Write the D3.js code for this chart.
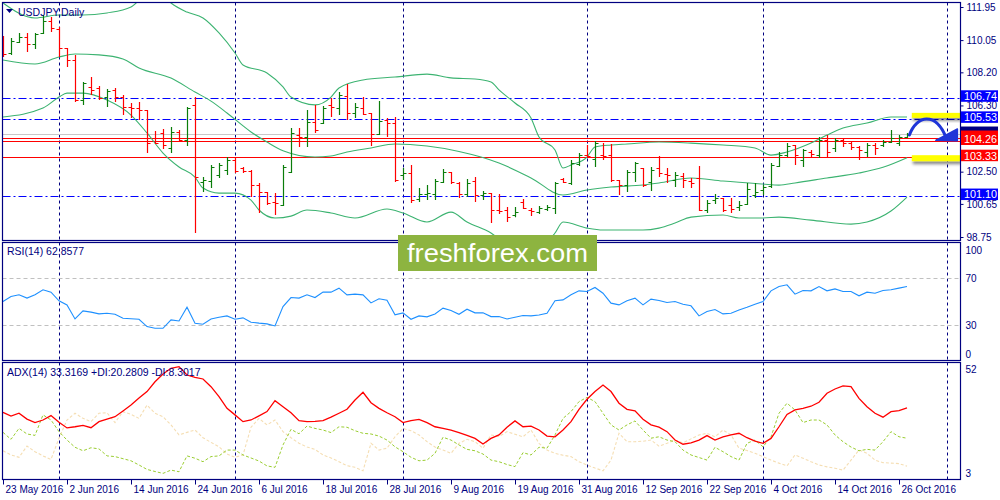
<!DOCTYPE html>
<html>
<head>
<meta charset="utf-8">
<script src="https://cdn.jsdelivr.net/npm/d3@7"></script>
<style>
body { margin: 0; background: #fff; }
text { font-family: "Liberation Sans", Arial, sans-serif; }
</style>
</head>
<body>
<script>
// Data //////////////////////////////////////////////

var dates = ["23 May 2016", "2 Jun 2016", "14 Jun 2016", "24 Jun 2016", "6 Jul 2016", "18 Jul 2016", "28 Jul 2016",
             "9 Aug 2016", "19 Aug 2016", "31 Aug 2016", "12 Sep 2016", "22 Sep 2016", "4 Oct 2016", "14 Oct 2016", "26 Oct 2016"];
var dateBars = [0, 8, 16, 24, 32, 40, 48, 56, 64, 72, 80, 88, 96, 104, 112];
var gridBars = [7, 29, 50, 73, 95, 118];

var opens = [
110.06,109.31,109.94,110.23,109.83,110.46,111.15,110.69,109.60,108.91,
106.61,107.36,107.30,106.79,107.19,106.79,106.21,106.15,106.04,104.43,
104.72,103.86,104.78,104.32,106.33,101.91,101.96,102.31,102.59,103.17,
102.71,102.54,101.73,101.33,100.76,100.58,102.48,104.60,104.49,105.35,
105.29,106.33,106.15,106.84,105.87,106.15,105.87,104.66,105.46,105.29,
102.31,102.42,100.93,101.22,101.22,101.91,102.48,101.85,101.22,101.96,
101.16,101.27,100.30,100.30,100.01,100.76,100.30,100.18,100.36,100.41,
102.08,101.85,102.94,103.45,103.23,103.45,103.45,102.02,101.73,102.48,
102.71,101.91,102.71,102.37,102.02,102.25,101.96,102.14,100.30,100.87,
100.99,100.58,100.47,100.64,101.16,101.45,101.68,102.82,103.45,104.03,
103.17,103.63,103.45,104.32,103.86,104.32,104.14,103.91,103.63,104.03,
104.03,104.20,104.14,104.49];
var highs = [
110.29,110.17,110.46,110.46,110.46,111.49,111.38,110.80,109.60,109.20,
107.64,107.93,107.42,107.24,107.30,106.90,106.44,106.50,106.04,104.83,
104.95,105.06,104.89,106.21,106.79,102.19,102.88,103.00,103.34,103.34,
102.77,102.59,101.85,101.33,101.27,102.88,105.00,105.00,106.04,106.33,
106.27,106.73,107.07,107.53,106.44,106.79,105.87,106.55,105.58,105.64,
102.71,102.88,101.56,101.73,102.08,102.65,102.48,101.91,102.08,102.19,
101.39,101.27,101.22,100.47,100.47,100.93,100.41,100.53,100.58,101.91,
102.14,103.17,103.57,104.03,104.26,104.14,104.09,102.02,102.59,103.05,
102.71,102.77,103.40,102.71,102.48,102.42,102.14,102.82,100.87,101.22,
100.99,100.99,100.82,101.85,101.85,101.73,103.00,103.63,104.14,104.03,
103.80,103.74,104.49,104.60,104.43,104.43,104.20,103.97,104.14,104.14,
104.32,104.89,104.60,104.72];
var lows = [
109.08,109.20,109.88,109.37,109.54,110.40,110.52,109.08,108.51,106.50,
106.33,106.90,106.61,106.21,106.50,105.75,105.58,105.46,103.57,104.09,
103.80,103.57,104.20,103.97,98.98,101.33,101.56,102.14,102.31,102.42,
102.42,101.04,100.13,100.58,100.01,100.53,102.42,103.91,103.91,104.72,
105.23,105.64,105.75,105.46,105.58,105.75,103.97,104.60,104.49,101.91,
102.02,100.70,100.76,100.87,100.87,101.85,101.79,100.99,101.04,100.76,
100.87,99.55,100.07,99.61,99.89,100.36,99.95,100.07,100.24,100.07,
101.85,101.73,102.82,103.28,102.77,103.17,101.91,101.16,101.33,101.91,
101.62,101.39,102.19,101.85,101.62,101.56,101.56,100.24,100.13,100.64,
100.18,100.13,100.24,100.58,100.99,101.16,101.56,102.77,103.34,102.88,
102.77,103.34,103.28,103.34,103.63,103.91,103.74,103.17,103.34,103.45,
103.91,104.14,103.97,104.43];
var closes = [
109.25,110.00,110.23,109.83,110.40,111.15,110.74,109.60,108.91,106.61,
107.59,107.19,106.73,107.13,106.79,106.21,106.15,106.04,104.14,104.14,
104.03,104.78,104.32,106.15,102.19,102.02,102.77,102.88,103.17,102.54,
102.54,101.73,101.33,100.70,100.70,102.77,104.72,104.49,105.35,104.89,
106.15,106.21,106.90,105.87,106.21,105.81,104.66,105.41,105.29,102.02,
102.42,100.87,101.22,101.28,101.96,102.48,101.91,101.22,101.85,101.16,
101.27,100.30,100.24,99.89,100.18,100.41,100.24,100.41,100.47,101.85,
101.91,103.00,103.45,103.40,104.14,103.40,102.02,101.73,102.48,103.00,
101.73,102.59,102.42,102.31,102.31,102.02,101.85,100.30,100.70,100.99,
100.30,100.36,100.58,101.50,101.33,101.62,102.88,103.45,103.97,103.45,
103.74,103.51,104.32,103.63,104.32,104.14,103.91,103.74,104.03,103.86,
104.20,104.43,104.49,104.66];

// Bollinger bands, read at the bars where the curves bend
var bbUpperIdx = [0,4,7,10,13,16,18,20,21,23,25,27,29,30,33,35,36,39,41,42,45,49,53,56,59,61,62,64,66,67,69,70,71,73,74,76,78,82,86,90,94,96,98,101,103,105,108,111,113];
var bbUpper = [112.18,111.32,111.49,111.49,111.61,111.95,112.6,112.6,112.18,111.66,111.32,110.46,109.31,108.62,108.16,107.36,106.78,106.33,106.78,107.30,
               107.76,107.93,108.10,107.88,107.82,107.65,107.19,106.44,105.58,104.49,103.74,102.71,102.88,103.34,103.91,104.03,104.09,104.20,104.14,104.03,
               103.86,103.45,103.63,104.14,104.60,105.00,105.29,105.64,105.64];
var bbMidIdx = [0,4,7,9,12,15,17,21,24,26,28,31,33,35,39,41,43,46,49,53,57,62,66,70,73,76,80,82,86,90,95,97,99,103,107,110,113];
var bbMid = [108.91,108.68,109.08,109.25,109.20,108.97,108.45,107.87,107.07,106.55,105.87,104.78,104.20,103.70,103.34,103.40,103.63,103.86,104.09,103.97,
             103.66,103.00,102.14,101.16,101.45,101.62,101.73,101.85,102.14,101.96,101.79,101.73,101.85,102.14,102.42,102.75,103.30];
var bbLowerIdx = [0,5,7,8,10,13,16,18,20,22,24,25,27,29,31,32,34,36,38,41,44,48,50,53,56,58,61,63,65,67,68,69,70,73,75,80,82,84,86,90,92,95,97,101,106,108,111,113];
var bbLower = [105.64,106.15,106.78,107.01,107.01,106.61,105.75,104.72,103.57,102.77,102.19,101.56,101.27,101.27,100.87,100.30,99.84,99.95,100.30,100.13,
               99.84,100.36,100.13,99.61,100.18,99.61,98.98,98.29,98.0,98.0,98.4,98.98,99.61,99.26,99.15,99.15,99.26,99.55,99.89,100.01,
               99.84,99.84,99.89,99.72,99.49,99.61,100.24,101.04];

var rsi = [
50.0,54.3,55.7,52.9,55.7,60.0,58.0,50.6,47.1,35.1,
42.0,40.9,39.4,40.0,39.1,35.7,35.3,34.8,28.6,27.1,
27.1,34.3,33.4,45.1,31.4,30.6,35.1,36.5,37.7,34.8,
36.0,32.3,31.5,30.9,29.1,45.7,53.4,52.9,55.7,53.4,
58.0,58.0,61.4,55.7,56.3,55.7,48.8,52.3,51.1,38.6,
40.3,34.8,37.7,36.9,39.4,44.3,42.3,39.1,43.4,40.3,
40.3,37.1,37.1,35.1,36.5,38.0,37.7,38.5,40.0,50.6,
51.4,55.7,59.1,58.6,62.0,57.1,48.6,47.1,50.6,52.9,
47.1,52.0,50.8,49.1,50.0,47.7,46.3,37.7,41.4,43.1,
39.4,40.0,42.8,45.1,47.7,50.0,59.1,62.8,64.3,56.3,
59.4,59.1,62.8,59.1,60.8,58.6,58.6,54.9,58.0,57.1,
59.4,60.0,61.4,62.86];

var adx = [
31.4,29.8,31.0,28.5,27.0,28.1,30.0,27.1,24.7,25.2,
25.8,24.8,27.4,28.5,29.5,32.0,34.5,37.5,40.3,44.5,
47.8,50.3,51.0,47.4,46.4,45.7,42.4,38.1,33.1,30.3,
27.4,28.1,29.9,31.7,36.4,33.8,31.2,27.8,27.4,27.5,
27.8,29.3,31.0,32.7,36.7,40.0,35.5,33.1,31.2,29.5,
27.0,27.8,28.4,27.0,25.2,24.5,23.8,22.7,21.5,20.2,
17.8,20.2,21.7,25.0,27.7,25.2,25.5,23.8,21.2,20.9,
23.8,27.4,32.7,37.0,40.3,43.1,40.3,35.3,32.7,32.0,
28.4,26.0,25.0,23.1,19.5,17.7,18.3,19.5,21.4,19.5,
20.9,21.7,22.4,20.5,19.0,18.1,20.2,25.2,30.5,32.4,
33.1,34.0,35.7,39.6,41.4,42.7,42.4,37.4,33.8,31.0,
29.3,31.7,32.1,33.32];
var plusDI = [
22.8,19.8,24.5,22.1,21.5,30.3,28.1,23.1,19.5,16.4,
14.9,16.2,15.7,12.7,12.4,11.5,10.6,8.8,6.9,6.0,
5.2,6.6,5.9,12.7,11.7,10.2,12.4,12.7,15.2,15.2,
13.1,11.8,10.5,8.4,7.8,17.4,24.1,22.2,25.5,24.5,
23.8,22.7,25.2,25.0,23.5,22.4,22.1,21.2,19.5,16.6,
14.5,12.1,10.6,10.9,13.8,20.7,19.5,17.4,15.5,14.9,
13.5,10.9,10.2,9.0,8.1,14.1,13.1,16.4,16.0,21.7,
28.8,31.7,36.0,37.8,36.0,31.0,26.0,23.8,26.0,27.7,
23.8,20.3,20.9,19.5,18.8,15.2,13.1,12.0,10.9,16.4,
14.5,12.4,10.9,18.1,19.5,16.6,20.9,31.0,35.3,32.4,
27.0,28.1,28.1,26.0,21.7,18.8,16.5,14.9,15.5,15.2,
18.8,23.1,20.9,20.28];
var minusDI = [
14.9,13.1,12.1,16.9,14.5,12.7,11.2,20.3,28.1,31.0,
28.8,27.4,31.0,31.2,27.0,31.7,30.5,28.8,34.5,31.0,
29.5,26.0,21.7,22.8,23.8,20.5,18.5,16.6,13.5,12.1,
13.1,25.0,28.8,26.0,28.1,23.1,20.5,18.1,16.5,15.5,
13.1,11.8,10.2,8.5,7.8,6.3,18.1,15.2,16.0,20.9,
24.5,23.5,21.7,18.8,16.5,15.2,13.8,18.1,19.8,18.8,
16.0,21.7,21.0,23.1,22.0,20.9,23.8,18.1,15.2,13.8,
13.0,12.4,10.2,8.8,7.5,6.3,10.9,22.4,18.8,18.8,
19.0,19.5,16.9,18.1,19.5,18.3,20.0,21.7,22.4,20.9,
23.8,21.7,16.0,15.0,13.8,12.4,10.9,9.6,8.4,13.1,
11.7,10.2,8.8,8.0,7.4,6.6,10.9,15.2,13.8,10.9,
9.8,9.6,9.4,8.30];

// 104.40 is covered by the level tags in the reference, so it is left out
var priceTicks = [111.95, 110.05, 108.20, 106.30, 102.50, 100.65, 98.75];
var blueLevels = [106.74, 105.53, 101.10];
var redLevels = [104.43, 104.26, 103.33];
var bidPrice = 104.66;
var rsiTicks = [100, 70, 30, 0];
var rsiLevels = [70, 30];
var adxTicks = [52, 3];

// Setup //////////////////////////////////////////////

var navy = "#000080";
var svg = d3.select("body").append("svg")
    .attr("width", 1000)
    .attr("height", 500);

var xLeft = 2.5, xRight = 960.5;
var panels = [
    {name: "price", top: 2.5, bottom: 240.5},
    {name: "rsi", top: 242.5, bottom: 360.5},
    {name: "adx", top: 362.5, bottom: 479.5}
];

var xScale = d3.scaleLinear().domain([0, 119.5]).range([3, 959]);
var yPrice = d3.scaleLinear().domain([98.75, 111.95]).range([237, 7]);
var yRsi = d3.scaleLinear().domain([0, 100]).range([360, 243]);
var yAdx = d3.scaleLinear().domain([3, 52]).range([478.5, 364.3]);

function px(i) { return Math.round(xScale(i)) + 0.5; }

var defs = svg.append("defs");
panels.forEach(function(p) {
    defs.append("clipPath").attr("id", "clip-" + p.name)
        .append("rect")
        .attr("x", xLeft).attr("y", p.top)
        .attr("width", xRight - xLeft).attr("height", p.bottom - p.top);
});
var shadow = defs.append("filter").attr("id", "shadow")
    .attr("x", "-20%").attr("y", "-50%").attr("width", "140%").attr("height", "250%");
shadow.append("feDropShadow")
    .attr("dx", 1).attr("dy", 3).attr("stdDeviation", 1.5)
    .attr("flood-color", "#000").attr("flood-opacity", 0.45);

var layers = {};
panels.forEach(function(p) {
    layers[p.name] = svg.append("g").attr("clip-path", "url(#clip-" + p.name + ")");
    // vertical dashed grid
    layers[p.name].selectAll(".grid")
        .data(gridBars)
        .enter().append("line")
            .attr("x1", function(d) { return px(d); })
            .attr("x2", function(d) { return px(d); })
            .attr("y1", p.top).attr("y2", p.bottom)
            .attr("stroke", navy).attr("stroke-width", 1)
            .attr("stroke-dasharray", "3,3");
});

// PRICE PANEL ////////////////////////////////////////
var gp = layers.price;

gp.append("line")
    .attr("x1", xLeft).attr("x2", xRight)
    .attr("y1", Math.round(yPrice(bidPrice)) + 0.5).attr("y2", Math.round(yPrice(bidPrice)) + 0.5)
    .attr("stroke", "#c8c8c8");

gp.selectAll(".blue-level")
    .data(blueLevels)
    .enter().append("line")
        .attr("x1", xLeft).attr("x2", xRight)
        .attr("y1", function(d) { return Math.round(yPrice(d)) + 0.5; })
        .attr("y2", function(d) { return Math.round(yPrice(d)) + 0.5; })
        .attr("stroke", "#0000ff").attr("stroke-width", 1.2)
        .attr("stroke-dasharray", "8,3,2,3");

gp.selectAll(".red-level")
    .data(redLevels)
    .enter().append("line")
        .attr("x1", xLeft).attr("x2", xRight)
        .attr("y1", function(d) { return Math.round(yPrice(d)) + 0.5; })
        .attr("y2", function(d) { return Math.round(yPrice(d)) + 0.5; })
        .attr("stroke", "#ff0000").attr("stroke-width", 1.2);

function bandLine(idx, vals, yS) {
    var pts = idx.map(function(d, i) { return [xScale(d), yS(vals[i])]; });
    return d3.line().curve(d3.curveMonotoneX)(pts);
}
[[bbUpperIdx, bbUpper], [bbMidIdx, bbMid], [bbLowerIdx, bbLower]].forEach(function(b) {
    gp.append("path")
        .attr("d", bandLine(b[0], b[1], yPrice))
        .attr("fill", "none")
        .attr("stroke", "#3cb371")
        .attr("stroke-width", 1.1);
});

// OHLC bars
var bars = gp.selectAll(".bar")
    .data(d3.range(opens.length))
    .enter().append("g")
        .attr("stroke", function(i) { return closes[i] > opens[i] ? "#0a7d0a" : "#ff0000"; })
        .attr("stroke-width", 1.2);
bars.append("line")
    .attr("x1", function(i) { return px(i); }).attr("x2", function(i) { return px(i); })
    .attr("y1", function(i) { return yPrice(highs[i]); })
    .attr("y2", function(i) { return yPrice(lows[i]); });
bars.append("line")
    .attr("x1", function(i) { return px(i) - 3; }).attr("x2", function(i) { return px(i); })
    .attr("y1", function(i) { return Math.round(yPrice(opens[i])) + 0.5; })
    .attr("y2", function(i) { return Math.round(yPrice(opens[i])) + 0.5; });
bars.append("line")
    .attr("x1", function(i) { return px(i); }).attr("x2", function(i) { return px(i) + 3; })
    .attr("y1", function(i) { return Math.round(yPrice(closes[i])) + 0.5; })
    .attr("y2", function(i) { return Math.round(yPrice(closes[i])) + 0.5; });

// yellow highlights at the channel edges
var hlStart = xScale(113.6);
[105.53, 103.33].forEach(function(v, k) {
    gp.append("rect")
        .attr("x", hlStart)
        .attr("y", k === 0 ? yPrice(v) - 6 : yPrice(v) - 2)
        .attr("width", xRight - hlStart)
        .attr("height", k === 0 ? 5 : 6)
        .attr("fill", "#ffff00")
        .attr("filter", "url(#shadow)");
});

// blue arrow
var a0 = [xScale(113.3), yPrice(104.60)];
var a1 = [xScale(117.9), yPrice(104.43)];
svg.append("path")
    .attr("d", "M" + a0[0] + "," + a0[1] +
        " C" + xScale(114.2) + "," + yPrice(105.75) + " " + xScale(116.6) + "," + yPrice(105.95) + " " + a1[0] + "," + a1[1])
    .attr("fill", "none").attr("stroke", "#1f35d8").attr("stroke-width", 3).attr("stroke-linecap", "round");
svg.append("path")
    .attr("d", "M" + xScale(116.6) + "," + yPrice(104.30) +
        " L" + xScale(119.3) + "," + yPrice(104.28) +
        " L" + xScale(119.3) + "," + yPrice(104.95) + " Z")
    .attr("fill", "#1f35d8").attr("stroke", "#1f35d8").attr("stroke-width", 1.5).attr("stroke-linejoin", "round");

// RSI PANEL //////////////////////////////////////////
var gr = layers.rsi;
gr.selectAll(".lvl")
    .data(rsiLevels)
    .enter().append("line")
        .attr("x1", xLeft).attr("x2", xRight)
        .attr("y1", function(d) { return Math.round(yRsi(d)) + 0.5; })
        .attr("y2", function(d) { return Math.round(yRsi(d)) + 0.5; })
        .attr("stroke", "#c0c0c0").attr("stroke-dasharray", "4,3");
gr.append("path")
    .datum(rsi)
    .attr("d", d3.line().x(function(d, i) { return xScale(i); }).y(function(d) { return yRsi(d); }))
    .attr("fill", "none").attr("stroke", "#1e90ff").attr("stroke-width", 1.1);

// ADX PANEL //////////////////////////////////////////
var ga = layers.adx;
var adxLine = d3.line().x(function(d, i) { return xScale(i); }).y(function(d) { return yAdx(d); });
ga.append("path").datum(minusDI).attr("d", adxLine)
    .attr("fill", "none").attr("stroke", "#f5deb3").attr("stroke-width", 1.1).attr("stroke-dasharray", "3,2");
ga.append("path").datum(plusDI).attr("d", adxLine)
    .attr("fill", "none").attr("stroke", "#9acd32").attr("stroke-width", 1).attr("stroke-dasharray", "3,2");
ga.append("path").datum(adx).attr("d", adxLine)
    .attr("fill", "none").attr("stroke", "#ff0000").attr("stroke-width", 1.3);

// frames
panels.forEach(function(p) {
    svg.append("rect")
        .attr("x", xLeft).attr("y", p.top)
        .attr("width", xRight - xLeft).attr("height", p.bottom - p.top)
        .attr("fill", "none").attr("stroke", navy).attr("stroke-width", 1.2);
});

// Axes //////////////////////////////////////////////
function styleAxis(g) {
    g.select(".domain").remove();
    g.attr("font-family", "Liberation Sans, Arial, sans-serif").attr("font-size", 10);
    g.selectAll(".tick line").attr("stroke", navy);
    g.selectAll(".tick text").attr("fill", navy);
}

svg.append("g")
    .attr("transform", "translate(" + xRight + ",0)")
    .call(d3.axisRight(yPrice).tickValues(priceTicks).tickSize(3).tickPadding(3).tickFormat(d3.format(".2f")))
    .call(styleAxis);

svg.append("g")
    .attr("transform", "translate(" + xRight + ",0)")
    .call(d3.axisRight(yRsi).tickValues(rsiTicks).tickSize(0).tickPadding(5))
    .call(styleAxis)
    .selectAll(".tick text")
        .attr("y", function(d) { return d === 100 ? 7 : (d === 0 ? -6 : 0); });

svg.append("g")
    .attr("transform", "translate(" + xRight + ",0)")
    .call(d3.axisRight(yAdx).tickValues(adxTicks).tickSize(0).tickPadding(5))
    .call(styleAxis)
    .selectAll(".tick text")
        .attr("y", function(d) { return d === 52 ? 5 : -5; });

svg.append("g")
    .attr("transform", "translate(0," + panels[2].bottom + ")")
    .call(d3.axisBottom(xScale).tickValues(dateBars).tickSize(5).tickPadding(1)
        .tickFormat(function(d, i) { return dates[i]; }))
    .call(styleAxis)
    .selectAll(".tick text")
        .attr("text-anchor", "start").attr("x", 2);

// right-hand price labels (the bid and 104.43 tags sit hidden under 104.26)
var priceLabels = [
    {v: 106.74, c: "#0000ff", show: true},
    {v: 105.53, c: "#0000ff", show: true},
    {v: bidPrice, c: navy, show: false},
    {v: 104.43, c: "#ff0000", show: false},
    {v: 104.26, c: "#ff0000", show: true},
    {v: 103.33, c: "#ff0000", show: true},
    {v: 101.10, c: "#0000ff", show: true}
];
var lab = svg.selectAll(".plabel")
    .data(priceLabels)
    .enter().append("g")
        .attr("transform", function(d) { return "translate(" + (xRight + 0.5) + "," + yPrice(d.v) + ")"; });
lab.append("rect")
    .attr("x", 0).attr("y", -7.5).attr("width", 37).attr("height", 11.5)
    .attr("fill", function(d) { return d.c; });
lab.filter(function(d) { return d.show; })
    .append("text")
    .attr("x", 3).attr("y", 2.3)
    .attr("font-size", 10.8).attr("fill", "#fff")
    .text(function(d) { return d3.format(".2f")(d.v); });

// titles
svg.append("path").attr("d", "M6,9 L13,9 L9.5,13 Z").attr("fill", navy);
svg.append("text").attr("x", 18).attr("y", 15.5).attr("font-size", 10.5).attr("fill", navy).text("USDJPY,Daily");
svg.append("text").attr("x", 7).attr("y", 255).attr("font-size", 10.5).attr("fill", navy)
    .text("RSI(14) 62.8577");
svg.append("text").attr("x", 7).attr("y", 375.5).attr("font-size", 10.5).attr("fill", navy)
    .text("ADX(14) 33.3169 +DI:20.2809 -DI:8.3017");

// logo
svg.append("rect").attr("x", 398).attr("y", 235).attr("width", 199).attr("height", 36).attr("fill", "#8db440");
svg.append("text").attr("x", 407).attr("y", 262)
    .attr("font-family", "Open Sans, Noto Sans, sans-serif")
    .attr("font-size", 26).attr("fill", "#fff")
    .attr("textLength", 181).attr("lengthAdjust", "spacingAndGlyphs")
    .text("freshforex.com");
</script>
</body>
</html>
